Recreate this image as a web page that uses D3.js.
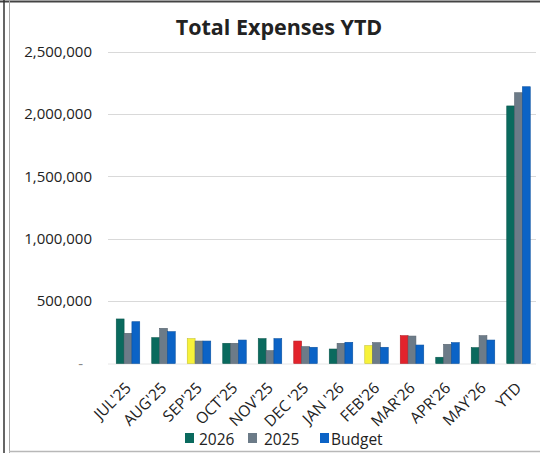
<!DOCTYPE html>
<html>
<head>
<meta charset="utf-8">
<script src="https://cdn.jsdelivr.net/npm/d3@7"></script>
<style>
  html, body { margin: 0; padding: 0; background: #fff; }
  svg { display: block; font-family: "Open Sans", "Noto Sans", sans-serif; }
</style>
</head>
<body>
<svg id="chart" width="540" height="453"></svg>
<script>
// Monthly expenses: current year, prior year and budget, plus year-to-date totals
const categories = ["JUL'25", "AUG'25", "SEP'25", "OCT'25", "NOV'25", "DEC '25", "JAN '26", "FEB'26", "MAR'26", "APR'26", "MAY'26", "YTD"];
const values2026 = [357000, 207000, 199000, 162000, 199000, 180000, 116000, 143000, 223000, 50000, 127000, 2065000];
const values2025 = [242000, 282000, 180000, 162000, 103000, 135000, 162000, 167000, 220000, 154000, 223000, 2171000];
const valuesBudget = [335000, 255000, 180000, 188000, 199000, 130000, 170000, 130000, 148000, 167000, 188000, 2219000];
// Status flag for the 2026 bar of each month
const status2026 = ["ok", "ok", "warn", "ok", "ok", "over", "ok", "warn", "over", "ok", "ok", "ok"];
const seriesNames = ["2026", "2025", "Budget"];
const yTicks = [0, 500000, 1000000, 1500000, 2000000, 2500000];

const seriesColor = { "2026": "#0a6a5e", "2025": "#6c7b88", "Budget": "#0b63c6" };
const statusColor = { ok: "#0a6a5e", warn: "#f7f23a", over: "#e2232c" };

const svg = d3.select("#chart");

// Sheet frame lines around the chart
svg.append("line").attr("x1", 0).attr("x2", 540).attr("y1", 1.5).attr("y2", 1.5).attr("stroke", "#444").attr("stroke-width", 2);
svg.append("line").attr("x1", 4).attr("x2", 4).attr("y1", 0).attr("y2", 453).attr("stroke", "#333").attr("stroke-width", 1.5);
svg.append("line").attr("x1", 9.5).attr("x2", 9.5).attr("y1", 0).attr("y2", 453).attr("stroke", "#a8a8a8").attr("stroke-width", 1);
svg.append("line").attr("x1", 9).attr("x2", 540).attr("y1", 451.5).attr("y2", 451.5).attr("stroke", "#b8b8b8").attr("stroke-width", 1.5);

const x = d3.scaleBand().domain(categories).range([110.25, 536.25]).paddingInner(0.338).paddingOuter(0.169);
const xs = d3.scaleBand().domain(seriesNames).range([0, x.bandwidth()]);
const y = d3.scaleLinear().domain([0, 2500000]).range([363.5, 51.7]);

// Gridlines
svg.append("g").selectAll("line").data(yTicks.slice(1)).join("line")
  .attr("x1", 108).attr("x2", 536)
  .attr("y1", d => Math.round(y(d)) + 0.5).attr("y2", d => Math.round(y(d)) + 0.5)
  .attr("stroke", "#d9d9d9").attr("stroke-width", 1);
svg.append("line").attr("x1", 108).attr("x2", 536).attr("y1", 364).attr("y2", 364)
  .attr("stroke", "#e6e6e6").attr("stroke-width", 1);

// Y axis labels
const yAxis = d3.axisLeft(y).tickValues(yTicks).tickSize(0).tickPadding(0)
  .tickFormat(d => d === 0 ? "-" : d3.format(",")(d));
const yg = svg.append("g").attr("transform", "translate(92,0)").call(yAxis);
yg.select(".domain").remove();
yg.selectAll("text").attr("font-size", 15).attr("fill", "#222").attr("font-family", "'Open Sans', sans-serif");
yg.selectAll(".tick").filter(d => d === 0).select("text").attr("dx", -9).attr("fill", "#888");

// Bars
const rows = categories.map((c, i) => ({
  cat: c,
  items: [
    { s: "2026", v: values2026[i], color: statusColor[status2026[i]] },
    { s: "2025", v: values2025[i], color: seriesColor["2025"] },
    { s: "Budget", v: valuesBudget[i], color: seriesColor["Budget"] }
  ]
}));
const groups = svg.append("g").selectAll("g").data(rows).join("g")
  .attr("transform", d => `translate(${x(d.cat)},0)`);
groups.selectAll("rect").data(d => d.items).join("rect")
  .attr("x", d => xs(d.s))
  .attr("y", d => y(d.v))
  .attr("width", xs.bandwidth())
  .attr("height", d => y(0) - y(d.v))
  .attr("fill", d => d.color)
  .attr("stroke", d => d3.color(d.color).darker(0.6))
  .attr("stroke-width", 0.6);

// X axis labels, rotated
const xAxis = d3.axisBottom(x).tickSize(0).tickPadding(0);
const xg = svg.append("g").call(xAxis);
xg.select(".domain").remove();
xg.selectAll(".tick").attr("transform", d => `translate(${x(d) + x.bandwidth() / 2 + 4},389)`);
xg.selectAll("text")
  .attr("transform", "rotate(-45)")
  .attr("text-anchor", "end")
  .attr("dy", 0).attr("y", 0).attr("x", 0)
  .attr("font-size", 15.5).attr("fill", "#222")
  .attr("font-family", "'Open Sans', sans-serif");

// Title
svg.append("text").attr("x", 279).attr("y", 35).attr("text-anchor", "middle")
  .attr("font-size", 21.5).attr("font-weight", "bold").attr("fill", "#222")
  .text("Total Expenses YTD");

// Legend
const legendPos = [{ s: "2026", sx: 185, tx: 199 }, { s: "2025", sx: 248, tx: 264 }, { s: "Budget", sx: 320, tx: 331 }];
const lg = svg.append("g").selectAll("g").data(legendPos).join("g");
lg.append("rect").attr("x", d => d.sx).attr("y", 433).attr("width", 9).attr("height", 10)
  .attr("fill", d => seriesColor[d.s]);
lg.append("text").attr("x", d => d.tx).attr("y", 445).attr("font-size", 15.5).attr("fill", "#222")
  .text(d => d.s);
</script>
</body>
</html>
